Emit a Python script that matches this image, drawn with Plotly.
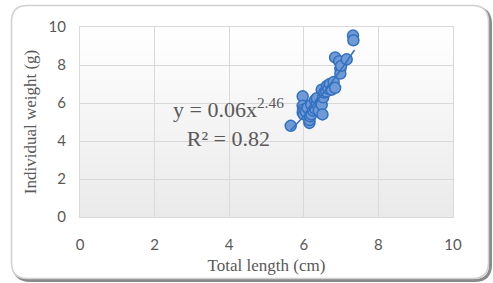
import numpy as np
import plotly.graph_objects as go

# Data
length_cm = [5.65, 5.97, 5.97, 5.98, 5.97, 6.00, 6.05, 6.10, 6.15, 6.15, 6.17, 6.20, 6.20,
             6.25, 6.30, 6.30, 6.35, 6.35, 6.40, 6.45, 6.48, 6.48, 6.50, 6.52, 6.55, 6.60,
             6.62, 6.66, 6.70, 6.75, 6.80, 6.84, 6.84, 6.95, 6.98, 6.98, 7.00, 7.15, 7.32, 7.33]
weight_g = [4.80, 6.35, 5.85, 5.65, 5.50, 5.40, 5.55, 5.75, 4.95, 5.10, 5.30, 5.40, 5.90,
            5.60, 6.15, 5.70, 5.95, 6.25, 5.60, 6.00, 6.70, 5.90, 5.40, 6.30, 6.55, 6.60,
            6.90, 6.75, 7.00, 6.70, 7.10, 6.80, 8.40, 8.20, 7.80, 7.55, 7.95, 8.30, 9.55, 9.30]
x_ticks = [0, 2, 4, 6, 8, 10]
y_ticks = [0, 2, 4, 6, 8, 10]
eq_text = "y = 0.06x<sup>2.46</sup><br>R² = 0.82"

# power-law trendline fitted in log space
b, loga = np.polyfit(np.log(length_cm), np.log(weight_g), 1)
tx = np.linspace(min(length_cm), max(length_cm) + 0.03, 60)
ty = np.exp(loga) * tx ** b

W, H = 493, 283
ML, MR, MT, MB = 80, 40, 27, 66
PW, PH = W - ML - MR, H - MT - MB

def px(xp):
    return (xp - ML) / PW

def py(yp):
    return (H - MB - yp) / PH

def path_paper(x0, y0, x1, y1, r):
    X0, X1 = px(x0), px(x1)
    Y0, Y1 = py(y0), py(y1)
    rx, ry = r / PW, r / PH
    return (f"M {X0+rx:.5f},{Y0:.5f} L {X1-rx:.5f},{Y0:.5f} Q {X1:.5f},{Y0:.5f} {X1:.5f},{Y0-ry:.5f} "
            f"L {X1:.5f},{Y1+ry:.5f} Q {X1:.5f},{Y1:.5f} {X1-rx:.5f},{Y1:.5f} "
            f"L {X0+rx:.5f},{Y1:.5f} Q {X0:.5f},{Y1:.5f} {X0:.5f},{Y1+ry:.5f} "
            f"L {X0:.5f},{Y0-ry:.5f} Q {X0:.5f},{Y0:.5f} {X0+rx:.5f},{Y0:.5f} Z")

shapes = []
# outer frame: shadow then frame
shapes.append(dict(type="path", xref="paper", yref="paper", path=path_paper(14, 8, 490.5, 280.5, 16),
                   line=dict(color="#8a8a8a", width=3), layer="below"))
shapes.append(dict(type="path", xref="paper", yref="paper", path=path_paper(11.5, 5.5, 488.5, 278.5, 16),
                   line=dict(color="#d0d0d0", width=1.5), fillcolor="white", layer="below"))
# gradient background of plot area
n = 40
for i in range(n):
    t = i / (n - 1)
    c = int(round(255 - (255 - 234) * (1 - t)))
    shapes.append(dict(type="rect", xref="x domain", yref="y domain",
                       x0=0, x1=1, y0=i / n, y1=(i + 1) / n + 0.002,
                       fillcolor=f"rgb({c},{c},{c})", line=dict(width=0), layer="below"))

fig = go.Figure()
fig.add_trace(go.Scatter(x=length_cm, y=weight_g, mode="markers",
                         marker=dict(size=11, color="#6f9ad6",
                                     line=dict(color="#3270c0", width=1.5)),
                         showlegend=False, hoverinfo="skip"))
fig.add_trace(go.Scatter(x=tx, y=ty, mode="lines",
                         line=dict(color="#3270c0", width=1.5),
                         showlegend=False, hoverinfo="skip"))

fig.update_layout(
    width=W, height=H,
    margin=dict(l=ML, r=MR, t=MT, b=MB),
    paper_bgcolor="white", plot_bgcolor="rgba(0,0,0,0)",
    xaxis=dict(range=[0, 10], tickvals=x_ticks, showgrid=True, gridcolor="#d9d9d9",
               gridwidth=1, zeroline=False, showline=True, linecolor="#d9d9d9", mirror=True,
               tickfont=dict(family="Lato, Carlito, sans-serif", size=15, color="#595959"),
               ticklabelstandoff=14,
               title=dict(text="Total length (cm)", standoff=7,
                          font=dict(family="Liberation Serif, Times New Roman, serif",
                                    size=17, color="#595959"))),
    yaxis=dict(range=[0, 10], tickvals=y_ticks, showgrid=True, gridcolor="#d9d9d9",
               gridwidth=1, zeroline=False, showline=True, linecolor="#d9d9d9", mirror=True,
               tickfont=dict(family="Lato, Carlito, sans-serif", size=15, color="#595959"),
               ticklabelstandoff=10,
               title=dict(text="Individual weight (g)", standoff=7,
                          font=dict(family="Liberation Serif, Times New Roman, serif",
                                    size=17, color="#595959"))),
    shapes=shapes,
    annotations=[dict(x=px(228), y=py(122), xref="paper", yref="paper",
                      text=eq_text, showarrow=False, align="center",
                      font=dict(family="Liberation Serif, Times New Roman, serif",
                                size=22, color="#595959"))],
)

fig.write_html("out.html", config={"displayModeBar": False},
               post_script="document.body.style.margin='0px';document.body.style.padding='0px';")
